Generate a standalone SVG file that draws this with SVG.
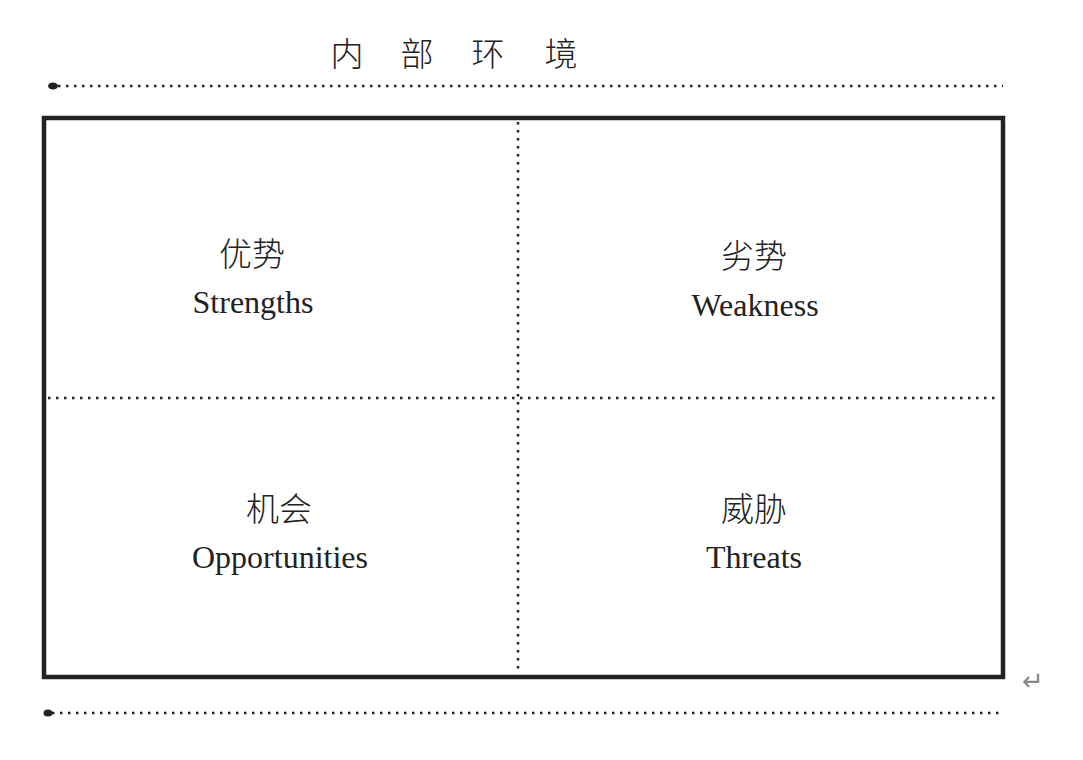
<svg xmlns="http://www.w3.org/2000/svg" width="1083" height="760" viewBox="0 0 1083 760">
<style>
.dot{stroke:#222;stroke-width:2.5;stroke-dasharray:2.5 5.5;fill:none}
.cn{font-family:"Noto Sans CJK SC",serif;font-size:33px;fill:#222;text-anchor:middle;font-weight:300}
.en{font-family:"Liberation Serif",serif;font-size:32px;fill:#222;text-anchor:middle}
</style>
<rect width="1083" height="760" fill="#fff"/>
<g id="title"><text class="cn" y="66"><tspan x="347">内</tspan><tspan x="417">部</tspan><tspan x="488">环</tspan><tspan x="561">境</tspan></text></g>
<g id="connectors">
<line class="dot" x1="58" y1="86" x2="1003" y2="86"/>
<ellipse cx="53" cy="86" rx="5" ry="3.5" fill="#222"/>
<line class="dot" x1="52" y1="713" x2="1000" y2="713"/>
<ellipse cx="48" cy="713" rx="4.5" ry="3.5" fill="#222"/>
<line class="dot" x1="518" y1="122" x2="518" y2="674"/>
<line class="dot" x1="48" y1="398" x2="1000" y2="398"/>
</g>
<g id="frame"><rect x="44" y="118" width="959" height="559" fill="none" stroke="#222" stroke-width="4.5"/></g>
<g id="strengths"><text class="cn" x="252" y="266">优势</text><text class="en" x="253" y="313">Strengths</text></g>
<g id="weakness"><text class="cn" x="754" y="268">劣势</text><text class="en" x="755" y="316">Weakness</text></g>
<g id="opportunities"><text class="cn" x="279" y="521">机会</text><text class="en" x="280" y="568">Opportunities</text></g>
<g id="threats"><text class="cn" x="754" y="521">威胁</text><text class="en" x="754" y="568">Threats</text></g>
<g id="mark"><text x="1033" y="690" font-family="DejaVu Sans,sans-serif" font-size="26" fill="#888" text-anchor="middle">↵</text></g>
</svg>
